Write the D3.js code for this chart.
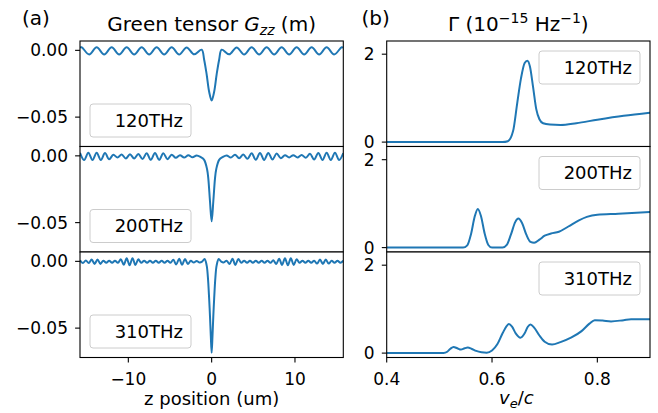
<!DOCTYPE html>
<meta charset="utf-8">
<head>
<style>
body { margin: 0; background: #fff; }
svg { display: block; font-family: "DejaVu Sans", sans-serif; }
.lbl { font-size: 17px; fill: #000; }
.big { font-size: 18px; fill: #000; }
.ttl { font-size: 20px; fill: #000; }
.curve { fill: none; stroke: #1f77b4; stroke-width: 2; stroke-linejoin: round; }
.frame { fill: none; stroke: #000; stroke-width: 1.1; }
.tick line { stroke: #000; stroke-width: 1.1; }
.leg { fill: #fff; fill-opacity: 0.8; stroke: #cccccc; stroke-width: 1; }
</style>
</head>
<body>
<svg id="fig" width="658" height="413"></svg>

<script src="https://d3js.org/d3.v7.min.js"></script>
<script>

// ---- data ----
var freqs = ["120THz", "200THz", "310THz"];

var zTicks = [-10, 0, 10];
var gTicks = [0, -0.05];
var vTicks = [0.4, 0.6, 0.8];
var rTicks = [0, 2];

// Green tensor Gzz (m) vs z (um)
var g120 = [
  [-15.8, 0.0020], [-15.6, 0.0023], [-14.7, -0.0031], [-13.8, 0.0023], [-12.9, -0.0031],
  [-12.0, 0.0023], [-11.1, -0.0031], [-10.2, 0.0023], [-9.3, -0.0031], [-8.4, 0.0023],
  [-7.5, -0.0031], [-6.6, 0.0023], [-5.7, -0.0031], [-4.8, 0.0023], [-3.9, -0.0031],
  [-3.0, 0.0022], [-2.1, -0.0030], [-1.2, 0.0005], [-0.9, -0.007], [-0.6, -0.018],
  [-0.3, -0.031], [0, -0.0375], [0.3, -0.031], [0.6, -0.018], [0.9, -0.007],
  [1.2, 0.0005], [2.1, -0.0030], [3.0, 0.0022], [3.9, -0.0031], [4.8, 0.0023],
  [5.7, -0.0031], [6.6, 0.0023], [7.5, -0.0031], [8.4, 0.0023], [9.3, -0.0031],
  [10.2, 0.0023], [11.1, -0.0031], [12.0, 0.0023], [12.9, -0.0031], [13.8, 0.0023],
  [14.7, -0.0031], [15.6, 0.0023], [15.8, 0.0020]
];

var g200 = [
  [-15.8, 0.0023], [-15.3, -0.0031], [-14.8, 0.0023], [-14.3, -0.0031], [-13.8, 0.0023],
  [-13.3, -0.0031], [-12.8, 0.0021], [-12.3, -0.0026], [-11.8, 0.0008], [-11.3, -0.0012],
  [-10.8, 0.0010], [-10.3, -0.0020], [-9.8, 0.0012], [-9.3, -0.0020], [-8.8, 0.0014],
  [-8.3, -0.0024], [-7.8, 0.0020], [-7.3, -0.0030], [-6.8, 0.0022], [-6.3, -0.0030],
  [-5.8, 0.0020], [-5.3, -0.0025], [-4.8, 0.0008], [-4.3, -0.0015], [-3.8, 0.0005],
  [-3.3, -0.0013], [-2.8, 0.0005], [-2.3, -0.0011], [-1.8, 0.0003], [-1.3, -0.0010],
  [-0.9, -0.0030], [-0.55, -0.010], [-0.4, -0.017], [-0.2, -0.034], [0, -0.049],
  [0.2, -0.034], [0.4, -0.017], [0.55, -0.010], [0.9, -0.0030], [1.3, -0.0010],
  [1.8, 0.0003], [2.3, -0.0013], [2.8, 0.0009], [3.3, -0.0018], [3.8, 0.0010],
  [4.3, -0.0022], [4.8, 0.0019], [5.3, -0.0030], [5.8, 0.0022], [6.3, -0.0031],
  [6.8, 0.0022], [7.3, -0.0027], [7.8, 0.0017], [8.3, -0.0018], [8.8, 0.0005],
  [9.3, -0.0012], [9.8, 0.0005], [10.3, -0.0012], [10.8, 0.0007], [11.3, -0.0015],
  [11.8, 0.0015], [12.3, -0.0027], [12.8, 0.0022], [13.3, -0.0031], [13.8, 0.0023],
  [14.3, -0.0031], [14.8, 0.0023], [15.3, -0.0031], [15.8, 0.0020]
];

var g310 = [
  [-15.8, 0.0007], [-15.45, -0.0013], [-15.1, 0.0007], [-14.75, -0.0013], [-14.4, 0.0013],
  [-14.05, -0.0019], [-13.7, 0.0013], [-13.35, -0.0019], [-13.0, 0.0005], [-12.65, -0.0011],
  [-12.3, 0.0005], [-11.95, -0.0011], [-11.6, 0.0005], [-11.25, -0.0011], [-10.9, 0.0016],
  [-10.55, -0.0025], [-10.2, 0.0023], [-9.85, -0.0029], [-9.5, 0.0024], [-9.15, -0.0027],
  [-8.8, 0.0015], [-8.45, -0.0011], [-8.1, 0.0005], [-7.75, -0.0011], [-7.4, 0.0005],
  [-7.05, -0.0011], [-6.7, 0.0005], [-6.35, -0.0011], [-6.0, 0.0005], [-5.65, -0.0011],
  [-5.3, 0.0005], [-4.95, -0.0011], [-4.6, 0.0012], [-4.25, -0.0024], [-3.9, 0.0020],
  [-3.55, -0.0026], [-3.2, 0.0018], [-2.85, -0.0020], [-2.5, 0.0004], [-2.15, -0.0009],
  [-1.8, 0.0003], [-1.45, -0.0008], [-1.15, -0.0002], [-0.85, 0.0018], [-0.6, -0.003],
  [-0.45, -0.012], [-0.3, -0.028], [-0.2, -0.041], [-0.1, -0.056], [0, -0.0685],
  [0.1, -0.056], [0.2, -0.041], [0.3, -0.028], [0.45, -0.012], [0.6, -0.003],
  [0.85, 0.0018], [1.15, -0.0002], [1.45, -0.0008], [1.8, 0.0005], [2.15, -0.0020],
  [2.5, 0.0020], [2.85, -0.0027], [3.2, 0.0018], [3.55, -0.0011], [3.9, 0.0005],
  [4.25, -0.0011], [4.6, 0.0005], [4.95, -0.0011], [5.3, 0.0005], [5.65, -0.0011],
  [6.0, 0.0005], [6.35, -0.0011], [6.7, 0.0005], [7.05, -0.0011], [7.4, 0.0008],
  [7.75, -0.0020], [8.1, 0.0020], [8.45, -0.0027], [8.8, 0.0023], [9.15, -0.0029],
  [9.5, 0.0023], [9.85, -0.0027], [10.2, 0.0016], [10.55, -0.0011], [10.9, 0.0005],
  [11.25, -0.0011], [11.6, 0.0005], [11.95, -0.0011], [12.3, 0.0005], [12.65, -0.0017],
  [13.0, 0.0013], [13.35, -0.0019], [13.7, 0.0013], [14.05, -0.0017], [14.4, 0.0005],
  [14.75, -0.0011], [15.1, 0.0005], [15.45, -0.0011], [15.8, 0.0005]
];

// Gamma (1e-15 /Hz) vs v_e/c
var r120 = [
  [0.40, 0], [0.620, 0], [0.630, 0.02], [0.640, 0.25], [0.648, 0.90], [0.655, 1.45],
  [0.662, 1.80], [0.667, 1.85], [0.672, 1.72], [0.678, 1.25], [0.684, 0.75],
  [0.690, 0.52], [0.697, 0.43], [0.710, 0.40], [0.730, 0.39], [0.760, 0.43],
  [0.800, 0.51], [0.850, 0.60], [0.900, 0.67]
];

var r200 = [
  [0.40, 0], [0.545, 0], [0.553, 0.05], [0.560, 0.30], [0.567, 0.70], [0.573, 0.88],
  [0.579, 0.72], [0.586, 0.32], [0.593, 0.06], [0.600, 0], [0.620, 0], [0.628, 0.06],
  [0.636, 0.30], [0.644, 0.58], [0.650, 0.66], [0.657, 0.56], [0.665, 0.30],
  [0.673, 0.13], [0.680, 0.11], [0.690, 0.18], [0.700, 0.27], [0.712, 0.32],
  [0.727, 0.36], [0.745, 0.48], [0.765, 0.62], [0.780, 0.70], [0.800, 0.75],
  [0.840, 0.77], [0.900, 0.81]
];

var r310 = [
  [0.40, 0], [0.508, 0], [0.515, 0.03], [0.521, 0.10], [0.527, 0.14], [0.534, 0.11],
  [0.541, 0.08], [0.548, 0.11], [0.554, 0.125], [0.561, 0.10], [0.570, 0.05],
  [0.580, 0.02], [0.590, 0.01], [0.600, 0.06], [0.610, 0.20], [0.620, 0.45],
  [0.628, 0.62], [0.632, 0.66], [0.638, 0.60], [0.645, 0.45], [0.654, 0.35],
  [0.662, 0.45], [0.668, 0.60], [0.673, 0.65], [0.680, 0.58], [0.690, 0.40],
  [0.700, 0.26], [0.714, 0.195], [0.730, 0.25], [0.750, 0.35], [0.770, 0.50],
  [0.785, 0.67], [0.795, 0.75], [0.810, 0.74], [0.826, 0.72], [0.850, 0.75],
  [0.864, 0.77], [0.900, 0.77]
];

// ---- layout ----
var svg = d3.select("#fig");
svg.append("rect").attr("width", 658).attr("height", 413).attr("fill", "#fff");

var tops = [41, 146.5, 252],
    ph = 105.5,
    left = {x0: 80, x1: 343.3},
    right = {x0: 386.7, x1: 650};

var zx = d3.scaleLinear().domain([-15.8, 15.8]).range([left.x0, left.x1]);
var vx = d3.scaleLinear().domain([0.4, 0.9]).range([right.x0, right.x1]);

var gFmt = d3.format(".2f"),
    vFmt = d3.format(".1f"),
    iFmt = d3.format("d");

var clipId = 0;

function panel(cfg) {
  var top = cfg.top, bot = top + ph;
  var x = cfg.x;
  var y = d3.scaleLinear().domain(cfg.ydom).range([bot, top]);
  var x0 = x.range()[0], x1 = x.range()[1];
  var g = svg.append("g");

  g.append("rect").attr("x", x0).attr("y", top)
    .attr("width", x1 - x0).attr("height", ph).attr("fill", "#fff");

  var id = "clip" + (clipId++);
  g.append("clipPath").attr("id", id)
    .append("rect").attr("x", x0).attr("y", top).attr("width", x1 - x0).attr("height", ph);

  var line = d3.line()
    .x(function(d) { return x(d[0]); })
    .y(function(d) { return y(d[1]); })
    .curve(cfg.curve);

  g.append("path").datum(cfg.data)
    .attr("class", "curve")
    .attr("clip-path", "url(#" + id + ")")
    .attr("d", line);

  // y ticks
  var yt = g.selectAll(".yt").data(cfg.yticks).enter().append("g").attr("class", "tick");
  yt.append("line")
    .attr("x1", x0 - 4.9).attr("x2", x0)
    .attr("y1", function(d) { return y(d); }).attr("y2", function(d) { return y(d); });
  yt.append("text").attr("class", "lbl")
    .attr("x", x0 - 12).attr("y", function(d) { return y(d); })
    .attr("dy", "0.36em").attr("text-anchor", "end")
    .text(cfg.yfmt);

  // x ticks only on the bottom row
  if (cfg.xticks) {
    var xt = g.selectAll(".xt").data(cfg.xticks).enter().append("g").attr("class", "tick");
    xt.append("line")
      .attr("x1", function(d) { return x(d); }).attr("x2", function(d) { return x(d); })
      .attr("y1", bot).attr("y2", bot + 4.9);
    xt.append("text").attr("class", "lbl")
      .attr("x", function(d) { return x(d); }).attr("y", bot + 27)
      .attr("text-anchor", "middle")
      .text(cfg.xfmt);
  }

  g.append("rect").attr("class", "frame")
    .attr("x", x0).attr("y", top).attr("width", x1 - x0).attr("height", ph);

  // legend box
  var lw = 101, lh = 33, lx, ly;
  if (cfg.legend == "lower left") { lx = x0 + 10; ly = bot - 9.5 - lh; }
  else { lx = x1 - 10 - lw; ly = top + 10; }
  g.append("rect").attr("class", "leg")
    .attr("x", lx).attr("y", ly).attr("width", lw).attr("height", lh).attr("rx", 3);
  g.append("text").attr("class", "big")
    .attr("x", lx + lw - 8).attr("y", ly + lh / 2).attr("dy", "0.36em")
    .attr("text-anchor", "end")
    .text(cfg.label);
}

var gSets = [g120, g200, g310],
    rSets = [r120, r200, r310];

gSets.forEach(function(d, i) {
  panel({top: tops[i], x: zx, ydom: [-0.072, 0.007], data: d,
         curve: d3.curveCatmullRom.alpha(0.5),
         yticks: gTicks, yfmt: gFmt,
         xticks: i == 2 ? zTicks : null, xfmt: iFmt,
         legend: "lower left", label: freqs[i]});
});

rSets.forEach(function(d, i) {
  panel({top: tops[i], x: vx, ydom: [-0.1, 2.3], data: d,
         curve: d3.curveMonotoneX,
         yticks: rTicks, yfmt: iFmt,
         xticks: i == 2 ? vTicks : null, xfmt: vFmt,
         legend: "upper right", label: freqs[i]});
});

// ---- titles and labels ----
svg.append("text").attr("class", "ttl").attr("x", 22).attr("y", 25).text("(a)");
svg.append("text").attr("class", "ttl").attr("x", 361.5).attr("y", 25).text("(b)");

var t1 = svg.append("text").attr("class", "ttl")
  .attr("x", (left.x0 + left.x1) / 2).attr("y", 31).attr("text-anchor", "middle");
t1.append("tspan").text("Green tensor ");
t1.append("tspan").attr("font-style", "italic").text("G");
t1.append("tspan").attr("font-style", "italic").attr("font-size", "14px").attr("dy", 4).text("zz");
t1.append("tspan").attr("dy", -4).text(" (m)");

var t2 = svg.append("text").attr("class", "ttl")
  .attr("x", (right.x0 + right.x1) / 2).attr("y", 31).attr("text-anchor", "middle");
t2.append("tspan").text("\u0393 (10");
t2.append("tspan").attr("font-size", "14px").attr("dy", -8).text("\u221215");
t2.append("tspan").attr("dy", 8).text(" Hz");
t2.append("tspan").attr("font-size", "14px").attr("dy", -8).text("\u22121");
t2.append("tspan").attr("dy", 8).text(")");

svg.append("text").attr("class", "big")
  .attr("x", (left.x0 + left.x1) / 2).attr("y", 405).attr("text-anchor", "middle")
  .text("z position (um)");

var xl = svg.append("text").attr("class", "big")
  .attr("x", (right.x0 + right.x1) / 2 - 2).attr("y", 404).attr("text-anchor", "middle");
xl.append("tspan").attr("font-style", "italic").text("v");
xl.append("tspan").attr("font-style", "italic").attr("font-size", "13px").attr("dy", 4).text("e");
xl.append("tspan").attr("dy", -4).text("/");
xl.append("tspan").attr("font-style", "italic").text("c");

</script>
</body>
